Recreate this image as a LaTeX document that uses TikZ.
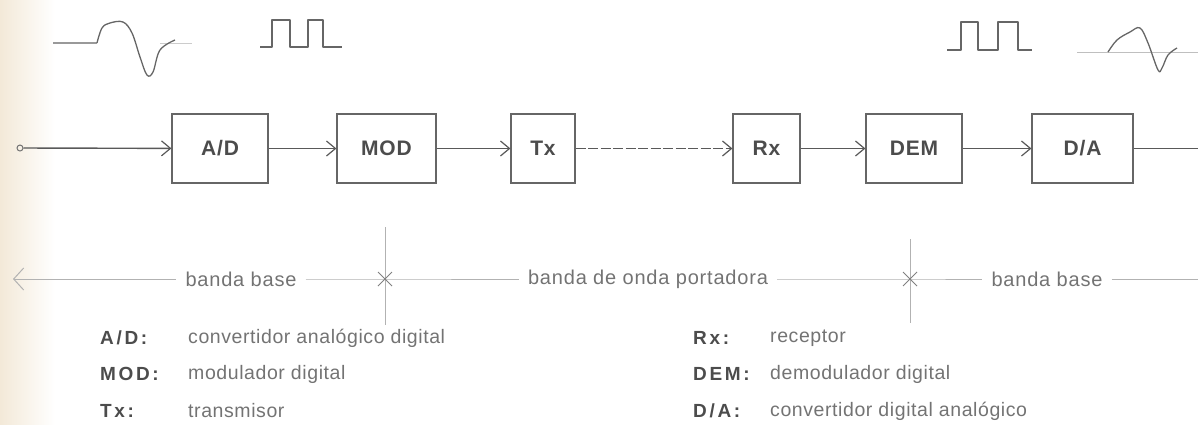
\documentclass[tikz,border=0pt]{standalone}
\usepackage{fontspec}
\setmainfont{Liberation Sans}
\usetikzlibrary{arrows.meta, positioning, calc}

\begin{document}
\begin{tikzpicture}[x=1pt, y=-1pt,
  bloque/.style={draw=black!60, line width=1.2pt, minimum width=#1, minimum height=69pt,
    inner sep=0pt, text=black!70, font=\fontsize{21}{24}\selectfont\bfseries\addfontfeature{LetterSpace=4}},
  bloque/.default=96pt,
  flecha/.style={-{Straight Barb[length=9pt,width=15pt,line width=1.2pt]}, draw=black!65, line width=1.4pt},
  banda/.style={draw=black!30, line width=0.9pt},
  textobanda/.style={text=black!55, inner sep=9pt,
    font=\fontsize{20}{22}\selectfont\addfontfeature{LetterSpace=4}},
  onda/.style={draw=black!60, line width=1.3pt, line join=round},
  sigla/.style={anchor=west, inner sep=0pt, text=black!70,
    font=\fontsize{19}{21}\selectfont\bfseries\addfontfeature{LetterSpace=14}},
  nota/.style={anchor=west, inner sep=0pt, text=black!55,
    font=\fontsize{19.5}{21}\selectfont\addfontfeature{LetterSpace=3}}]
  \useasboundingbox (0,0) rectangle (1198,424);
  % borde del papel
  \shade[left color={rgb,255:red,243;green,233;blue,216}, right color=white] (0,0) rectangle (55,424);

  % senal analogica de entrada
  \draw[onda, draw=black!40] (53,43) -- (97,43);
  \draw[black!20, line width=0.8pt] (160,43) -- (192,43);
  \draw[onda] plot[smooth, tension=0.6] coordinates {(97,43) (102,28) (110,23) (123,22) (132,33) (140,57) (147,75) (153,72) (160,50) (175,40)};
  % pulsos digitales
  \draw[onda] (260,47) -| (272,20) -| (290,47) -| (308,20) -| (323,47) -- (342,47);
  \draw[onda] (947,50) -| (961,22) -| (978,50) -| (998,22) -| (1018,50) -- (1032,50);
  % senal analogica de salida
  \draw[black!25, line width=0.8pt] (1077,52) -- (1198,52);
  \draw[onda] plot[smooth, tension=0.6] coordinates {(1108,52) (1117,40) (1130,32) (1140,28) (1148,43) (1158,70) (1162,68) (1168,55) (1177,48)};

  % bloques
  \node[draw=black!55, circle, minimum size=6pt, inner sep=0pt, line width=1pt] (entrada) at (20,148) {};
  \node[bloque] (ad) at (220,148.5) {A/D};
  \node[bloque=99pt] (mod) at (386.5,148.5) {MOD};
  \node[bloque=64pt] (tx) at (543,148.5) {Tx};
  \node[bloque=67pt] (rx) at (766.5,148.5) {Rx};
  \node[bloque] (dem) at (914,148.5) {DEM};
  \node[bloque=101pt] (da) at (1082.5,148.5) {D/A};
  \coordinate (salida) at (1198,148.5);

  % conexiones
  \draw[flecha] (entrada) -- (ad);
  \draw[flecha] (ad) -- (mod);
  \draw[flecha] (mod) -- (tx);
  \draw[flecha, dash pattern=on 10pt off 2.5pt] (tx) -- (rx);
  \draw[flecha] (rx) -- (dem);
  \draw[flecha] (dem) -- (da);
  \draw[flecha, -] (da) -- (salida);

  % bandas
  \coordinate (izq) at (13,279);
  \node[textobanda] (base1) at (241,279) {banda base};
  \coordinate (cruz1) at (385,279);
  \node[textobanda] (port) at (648,279) {banda de onda portadora};
  \coordinate (cruz2) at (910,279);
  \node[textobanda] (base2) at (1047,279) {banda base};
  \coordinate (der) at (1198,279);
  \draw[banda, {Straight Barb[length=10pt,width=22pt,line width=1pt]}-] (izq) -- (base1);
  \draw[banda] (base1) -- (cruz1) -- (port);
  \draw[banda] (port) -- (cruz2) -- (base2);
  \draw[banda] (base2) -- (der);
  % marcas de limite
  \draw[banda] ($(cruz1)+(0,-52)$) -- ($(cruz1)+(0,46)$);
  \draw[black!50, line width=1pt] ($(cruz1)+(-7,-7)$) -- ($(cruz1)+(7,7)$) ($(cruz1)+(-7,7)$) -- ($(cruz1)+(7,-7)$);
  \draw[banda] ($(cruz2)+(0,-40)$) -- ($(cruz2)+(0,44)$);
  \draw[black!50, line width=1pt] ($(cruz2)+(-7,-7)$) -- ($(cruz2)+(7,7)$) ($(cruz2)+(-7,7)$) -- ($(cruz2)+(7,-7)$);

  % leyenda
  \node[sigla] (sad) at (100,338) {A/D:};
  \node[nota] (nad) at (188,338) {convertidor analógico digital};
  \node[sigla] (smod) at (100,374) {MOD:};
  \node[nota] (nmod) at (188,374) {modulador digital};
  \node[sigla] (stx) at (100,411) {Tx:};
  \node[nota] (ntx) at (188,411) {transmisor};
  \node[sigla] (srx) at (693,338) {Rx:};
  \node[nota] (nrx) at (770,338) {receptor};
  \node[sigla] (sdem) at (693,374) {DEM:};
  \node[nota] (ndem) at (770,374) {demodulador digital};
  \node[sigla] (sda) at (693,411) {D/A:};
  \node[nota] (nda) at (770,411) {convertidor digital analógico};
\end{tikzpicture}
\end{document}
